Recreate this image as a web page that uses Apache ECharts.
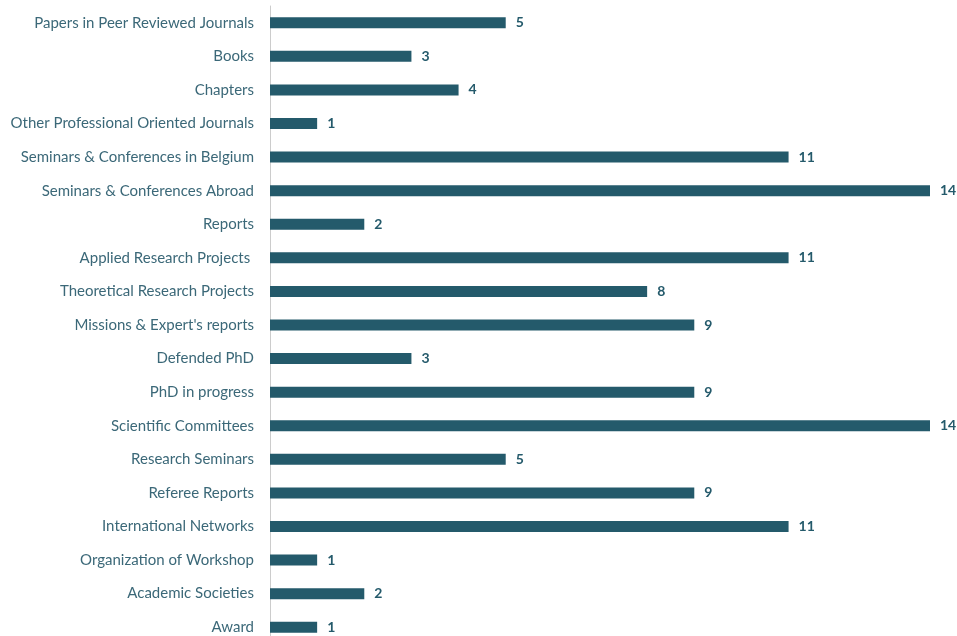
<!DOCTYPE html>
<html><head><meta charset="utf-8">
<script src="https://cdn.jsdelivr.net/npm/echarts@6/dist/echarts.min.js"></script>
<style>html,body{margin:0;padding:0;background:#fff}#c{width:957px;height:636px}</style>
</head><body><div id="c"></div>
<script>
const categories = ["Papers in Peer Reviewed Journals","Books","Chapters","Other Professional Oriented Journals","Seminars & Conferences in Belgium","Seminars & Conferences Abroad","Reports","Applied Research Projects ","Theoretical Research Projects","Missions & Expert's reports","Defended PhD","PhD in progress","Scientific Committees","Research Seminars","Referee Reports","International Networks","Organization of Workshop","Academic Societies","Award"];
const values = [5,3,4,1,11,14,2,11,8,9,3,9,14,5,9,11,1,2,1];
const chart = echarts.init(document.getElementById('c'));
chart.setOption({
  animation:false,
  grid:{left:270,top:6,width:660,height:638,containLabel:false,outerBoundsMode:'none'},
  xAxis:{type:'value',min:0,max:14,show:false},
  yAxis:{type:'category',data:categories,inverse:true,
    axisLine:{show:true,lineStyle:{color:'#cccccc',width:1}},
    axisTick:{show:false},
    axisLabel:{color:'#3b6878',fontSize:15,fontFamily:'Lato',margin:16}},
  series:[{type:'bar',data:values,barWidth:11,itemStyle:{color:'#245a6b'},
    label:{show:true,position:'right',distance:10,color:'#245a6b',fontWeight:'bold',fontSize:14,fontFamily:'Lato'}}]
});
</script></body></html>
